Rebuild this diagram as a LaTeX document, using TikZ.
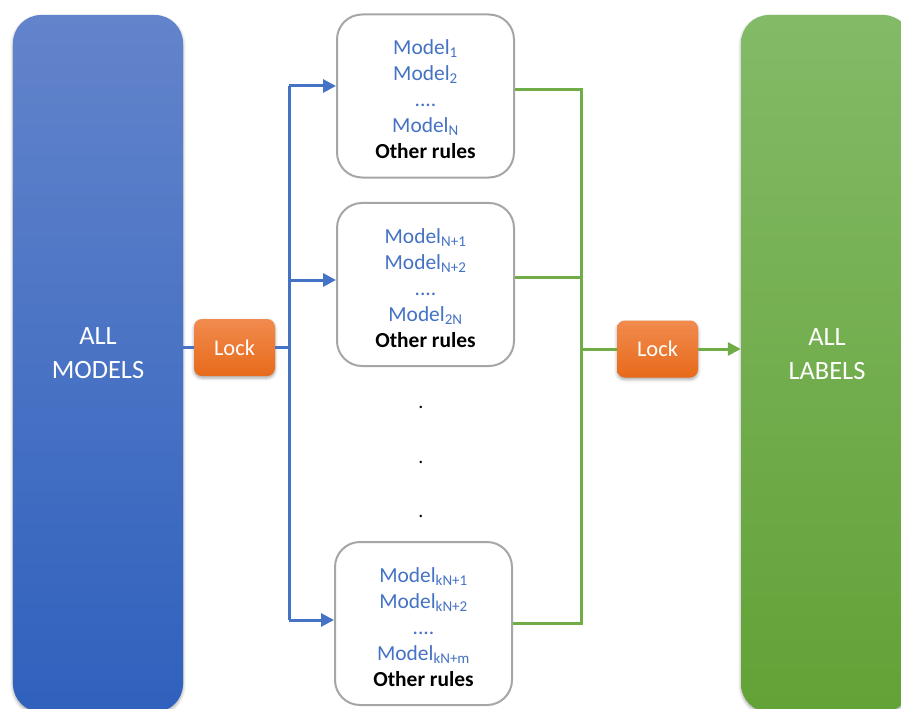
\documentclass[tikz,border=0pt]{standalone}
\usepackage{fontspec}
\setmainfont{Carlito}
\usetikzlibrary{arrows.meta,shadows.blur}

\definecolor{mblue}{HTML}{4472C4}
\definecolor{mgreen}{HTML}{70AD47}
\definecolor{bluetop}{HTML}{6384CB}
\definecolor{bluebot}{HTML}{2F61BD}
\definecolor{greentop}{HTML}{83BA67}
\definecolor{greenbot}{HTML}{62A236}
\definecolor{orangetop}{HTML}{F18B4E}
\definecolor{orangebot}{HTML}{E76A1A}
\definecolor{boxgray}{HTML}{A6A6A6}

\tikzset{
  softshadow/.style={blur shadow={shadow xshift=0bp, shadow yshift=-2bp,
      shadow blur radius=3bp, shadow opacity=35}},
  bigbox/.style={rounded corners=28bp, minimum width=170bp, minimum height=697bp,
      inner sep=0pt, softshadow},
  bigtext/.style={text=white, align=center, font=\fontsize{26.5}{34}\selectfont},
  lockbox/.style={rounded corners=8bp, minimum width=81bp, minimum height=57bp,
      inner sep=0pt, top color=orangetop, bottom color=orangebot, softshadow,
      text=white, font=\fontsize{22.5}{26}\selectfont},
  modelbox/.style={draw=boxgray, line width=2bp, fill=white, rounded corners=25bp,
      minimum width=177bp, minimum height=163bp, inner sep=0pt},
  modeltext/.style={text=mblue, align=center, font=\fontsize{21.5}{26}\selectfont},
  blueline/.style={draw=mblue, line width=3bp},
  greenline/.style={draw=mgreen, line width=3bp},
  tip/.style={-{Triangle[length=13bp,width=13bp]}},
  gapdot/.style={font=\fontsize{20}{24}\selectfont, inner sep=0pt}
}

\newcommand{\otherrules}{\textcolor{black}{\textbf{Other rules}}}

\begin{document}
\begin{tikzpicture}[x=1bp,y=-1bp]
\useasboundingbox (0,0) rectangle (901,709);

% the two tall end blocks, running off the page edges
\begin{scope}
  \clip (0,0) rectangle (901,709);
  \node[bigbox, top color=bluetop, bottom color=bluebot] (allm) at (98,363.5) {};
  \node[bigbox, top color=greentop, bottom color=greenbot] (alll) at (826,363.5) {};
\end{scope}
\node[bigtext] (allmt) at (98,353) {ALL\\MODELS};
\node[bigtext] (alllt) at (827,354) {ALL\\LABELS};

% lock stages
\node[lockbox] (lk1) at (234.5,347.5) {Lock};
\node[lockbox] (lk2) at (657.5,349) {Lock};

% rule groups
\node[modelbox] (m1) at (425.5,96) {};
\node[modeltext] (t1) at (425.5,99) {Model\textsubscript{1}\\Model\textsubscript{2}\\....\\Model\textsubscript{N}\\\otherrules};
\node[modelbox] (m2) at (425.5,284.5) {};
\node[modeltext] (t2) at (425.5,288) {Model\textsubscript{N+1}\\Model\textsubscript{N+2}\\....\\Model\textsubscript{2N}\\\otherrules};
\node[modelbox] (m3) at (423.5,623.5) {};
\node[modeltext] (t3) at (423.5,627) {Model\textsubscript{kN+1}\\Model\textsubscript{kN+2}\\....\\Model\textsubscript{kN+m}\\\otherrules};

% elided groups
\node[gapdot] (d1) at (421,407) {.};
\node[gapdot] (d2) at (421,462) {.};
\node[gapdot] (d3) at (421,516) {.};

% fan-out bus (blue)
\coordinate (bt) at (289,86);
\coordinate (bm) at (289,280);
\coordinate (bb) at (289,620);
\draw[blueline] (lk1.west -| allm.east) -- (lk1.west);
\draw[blueline] (lk1.east) -- (lk1.east -| bt);
\draw[blueline] (bt) -- (bb);
\draw[blueline, tip] (bt) -- (bt -| m1.west);
\draw[blueline, tip] (bm) -- (bm -| m2.west);
\draw[blueline, tip] (bb) -- (bb -| m3.west);

% fan-in bus (green)
\coordinate (gt) at (581,90);
\coordinate (gm) at (581,277);
\coordinate (gb) at (581,623);
\draw[greenline] (gt -| m1.east) -- (gt) -- (gb) -- (gb -| m3.east);
\draw[greenline] (gm -| m2.east) -- (gm);
\draw[greenline] (lk2.west -| gt) -- (lk2.west);
\draw[greenline, tip] (lk2.east) -- (lk2.east -| alll.west);
\end{tikzpicture}
\end{document}
